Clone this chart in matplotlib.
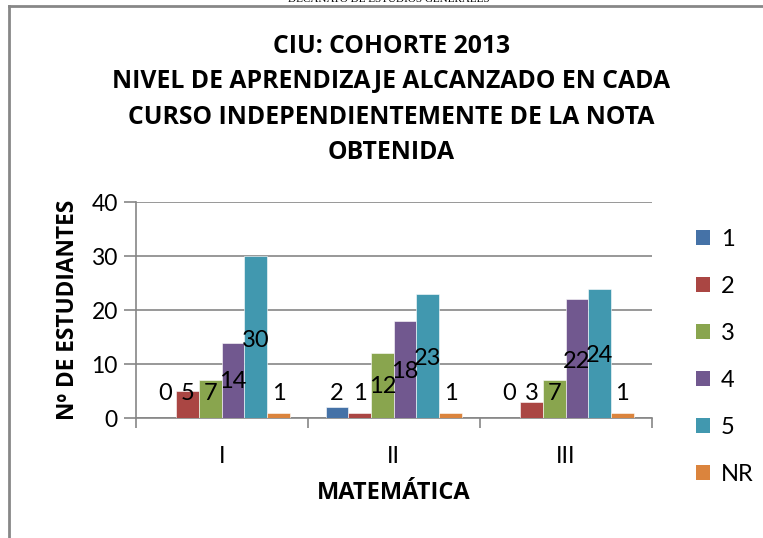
# grafico de barras agrupadas - CIU cohorte 2013
import numpy as np
import matplotlib.pyplot as plt
from matplotlib.patches import Patch
from matplotlib.lines import Line2D

plt.rcParams['font.family'] = ['Lato', 'DejaVu Sans']

# ---------------- datos ----------------
cursos = ["I", "II", "III"]
niveles = ["1", "2", "3", "4", "5", "NR"]
nivel_1 = [0, 2, 0]
nivel_2 = [5, 1, 3]
nivel_3 = [7, 12, 7]
nivel_4 = [14, 18, 22]
nivel_5 = [30, 23, 24]
nivel_nr = [1, 1, 1]
series = [nivel_1, nivel_2, nivel_3, nivel_4, nivel_5, nivel_nr]

colores = ['#4572a7', '#aa4643', '#89a54e', '#71588f', '#4198af', '#db843d']

titulo = ("CIU: COHORTE 2013\nNIVEL DE APRENDIZAJE ALCANZADO EN CADA\n"
          "CURSO INDEPENDIENTEMENTE DE LA NOTA\nOBTENIDA")

gris = '#868686'
negrita = ['Open Sans', 'DejaVu Sans']

# ---------------- figura ----------------
fig = plt.figure(figsize=(7.63, 5.38), dpi=100)
ax = fig.add_axes([0.178, 0.223, 0.676, 0.401])

x = np.arange(len(cursos))
ancho = 0.132
n = len(series)

for i, (vals, col) in enumerate(zip(series, colores)):
    pos = x + (i - (n - 1) / 2) * ancho
    ax.bar(pos, vals, width=ancho, color=col, edgecolor='white',
           linewidth=0.4, zorder=3)
    # etiquetas de datos (a media altura, como en el original)
    for px, v in zip(pos, vals):
        ax.text(px, max(0.48 * v, 4.6), str(v), ha='center', va='center',
                fontsize=17, color='black', zorder=4)

ax.set_xlim(-0.5, len(cursos) - 0.5)
ax.set_ylim(0, 40)
ax.set_yticks(np.arange(0, 41, 10))
ax.yaxis.grid(True, color=gris, linewidth=1.2, zorder=0)
ax.set_axisbelow(True)

# ticks del eje x entre categorias
ax.set_xticks(x)
ax.set_xticklabels(cursos, fontsize=16.5)
ax.set_xticks(np.arange(-0.5, len(cursos), 1), minor=True)
ax.tick_params(axis='x', which='major', length=0, pad=20)
ax.tick_params(axis='x', which='minor', length=7, color=gris, width=1.2)
ax.tick_params(axis='y', length=9, color=gris, width=1.2, labelsize=16.5, pad=4)

for lado in ['top', 'right']:
    ax.spines[lado].set_visible(False)
for lado in ['left', 'bottom']:
    ax.spines[lado].set_color(gris)
    ax.spines[lado].set_linewidth(1.2)

ax.set_xlabel("MATEMÁTICA", fontsize=17, fontweight='bold',
              family=negrita, labelpad=10)
ax.set_ylabel("Nº DE ESTUDIANTES", fontsize=16.3, fontweight='bold',
              family=negrita, labelpad=8)

fig.text(0.513, 0.815, titulo, ha='center', va='center', fontsize=17.8,
         fontweight='bold', family=negrita, linespacing=1.55)

# leyenda
manejadores = [Patch(facecolor=c, edgecolor='none') for c in colores]
fig.legend(manejadores, niveles, loc='center left',
           bbox_to_anchor=(0.884, 0.336), frameon=False, fontsize=17,
           handlelength=0.6, handleheight=0.6, handletextpad=0.45,
           labelspacing=1.1)

# marco y encabezado del documento
fig.add_artist(Line2D([0.0115, 0.0115], [0.0, 0.989], color='#878787',
                      linewidth=2, transform=fig.transFigure))
fig.add_artist(Line2D([0.0115, 1.0], [0.989, 0.989], color='#878787',
                      linewidth=2, transform=fig.transFigure))
fig.text(0.51, 1.0, "DECANATO DE ESTUDIOS GENERALES", ha='center',
         va='center', fontsize=8, family='Liberation Serif', color='black')

fig.savefig("out.png", dpi=100)
